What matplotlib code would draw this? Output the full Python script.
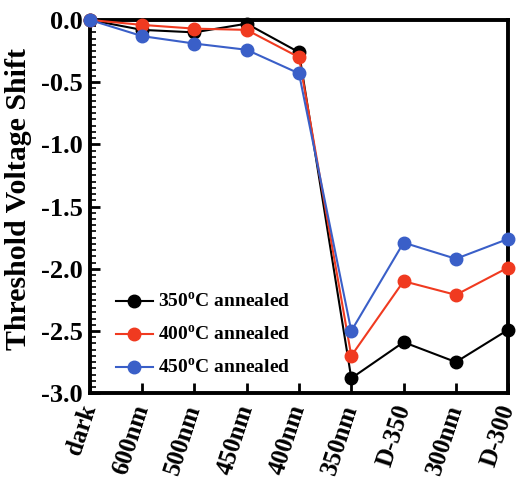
import numpy as np
import matplotlib.pyplot as plt
from matplotlib.ticker import MultipleLocator

categories = ['dark', '600nm', '500nm', '450nm', '400nm', '350nm', 'D-350', '300nm', 'D-300']
shift_350 = [0.0, -0.08, -0.10, -0.03, -0.26, -2.88, -2.59, -2.75, -2.49]
shift_400 = [0.0, -0.04, -0.07, -0.08, -0.30, -2.70, -2.10, -2.21, -1.99]
shift_450 = [0.0, -0.13, -0.19, -0.24, -0.43, -2.50, -1.79, -1.92, -1.76]
labels = ['350$^{\\mathrm{o}}$C annealed', '400$^{\\mathrm{o}}$C annealed', '450$^{\\mathrm{o}}$C annealed']
colors = ['black', '#f03a20', '#3a5fc8']

plt.rcParams['font.family'] = 'Liberation Serif'
plt.rcParams['mathtext.fontset'] = 'custom'
plt.rcParams['mathtext.rm'] = 'Liberation Serif:bold'

fig = plt.figure(figsize=(5.25, 4.86), dpi=100)
ax = fig.add_axes([0.171, 0.191, 0.797, 0.768])

x = np.arange(len(categories))
for ys, lab, c in zip([shift_350, shift_400, shift_450], labels, colors):
    ax.plot(x, ys, '-o', color=c, lw=1.5, markersize=9, label=lab, clip_on=False, zorder=3)

ax.set_xlim(0, len(categories) - 1)
ax.set_ylim(-3.0, 0.0)
ax.set_xticks(x)
ax.set_xticklabels(categories, rotation=72, ha='right', va='center', rotation_mode='anchor',
                   fontsize=18, fontweight='bold')
ax.yaxis.set_minor_locator(MultipleLocator(0.05))
ax.set_yticks(np.arange(-3.0, 0.01, 0.5))
ax.set_yticklabels(['%.1f' % v for v in np.arange(-3.0, 0.01, 0.5)], fontsize=19, fontweight='bold')
ax.tick_params(axis='both', which='major', direction='in', length=7, width=2, pad=5)
ax.tick_params(axis='y', which='minor', direction='in', length=4, width=1.2)
ax.tick_params(axis='x', which='major', pad=9)
for s in ax.spines.values():
    s.set_linewidth(2.8)
ax.set_ylabel('Threshold Voltage Shift', fontsize=21.5, fontweight='bold', labelpad=0)
ax.yaxis.set_label_coords(-0.137, 0.52)

leg = ax.legend(loc='lower left', bbox_to_anchor=(0.02, -0.005), frameon=False,
                prop={'size': 14, 'weight': 'bold'}, handlelength=1.9, labelspacing=0.7,
                handletextpad=0.3)

fig.savefig('out.png', dpi=100)
